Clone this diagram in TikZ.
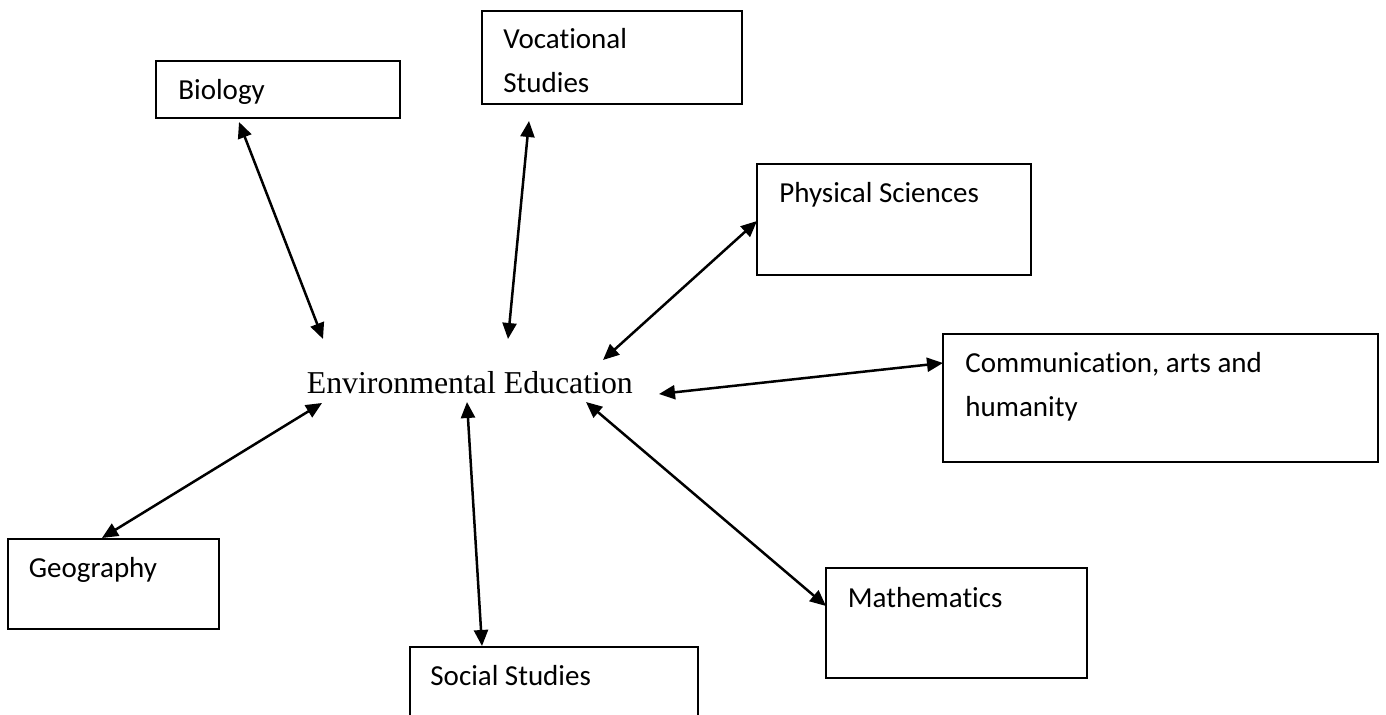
\documentclass[tikz,border=0pt]{standalone}
\usepackage{fontspec}
\setmainfont{Liberation Serif}
\newfontfamily\calibri[Ligatures=NoCommon,RawFeature={-liga;-dlig;-clig}]{Carlito}
\usetikzlibrary{arrows.meta}
\tikzset{
  subj/.style={draw=black, line width=1pt, fill=none, inner sep=0pt, rectangle},
  lbl/.style={anchor=base west, inner sep=0pt, align=left, font=\calibri\fontsize{14.5}{22}\selectfont},
  link/.style={line width=1.25pt, {Triangle[length=8pt,width=7pt]}-{Triangle[length=8pt,width=7pt]}}
}
\begin{document}
\begin{tikzpicture}[x=0.5pt, y=-0.5pt]
\useasboundingbox (0,0) rectangle (1386,715);
\fill[white] (0,0) rectangle (1386,715);
% boxes
\node[subj, minimum width=122pt, minimum height=28.5pt] (bio) at (278,89.5) {};
\node[subj, minimum width=130pt, minimum height=46.5pt] (voc) at (612,57.5) {};
\node[subj, minimum width=137pt, minimum height=55.5pt] (phy) at (894,219.5) {};
\node[subj, minimum width=217.5pt, minimum height=64pt] (com) at (1160.5,398) {};
\node[subj, minimum width=105.5pt, minimum height=45pt] (geo) at (113.5,584) {};
\node[subj, minimum width=130.5pt, minimum height=55pt] (mat) at (956.5,623) {};
\node[subj, minimum width=144pt, minimum height=60pt] (soc) at (554,707) {};
% labels
\node[lbl] (bioT) at (178,100) {Biology};
\node[lbl] (vocT) at (503,93) {Vocational\\Studies};
\node[lbl] (phyT) at (779,203) {Physical Sciences};
\node[lbl] (comT) at (965,417) {Communication, arts and\\humanity};
\node[lbl] (geoT) at (28.5,577) {Geography};
\node[lbl] (matT) at (847.5,607) {Mathematics};
\node[lbl] (socT) at (430,685) {Social Studies};
\node[anchor=base west, inner sep=0pt, font=\fontsize{15.9}{20}\selectfont] (ee) at (306.5,394) {Environmental Education};
% arrow end points
\coordinate (eBio) at (323,339);
\coordinate (bBio) at (239,122);
\coordinate (eVoc) at (508,339);
\coordinate (bVoc) at (529,121);
\coordinate (ePhy) at (603,360);
\coordinate (bPhy) at (757,221);
\coordinate (eCom) at (659,394);
\coordinate (bCom) at (943,363);
\coordinate (eGeo) at (322,403);
\coordinate (bGeo) at (102,538);
\coordinate (eSoc) at (467,402);
\coordinate (bSoc) at (482,646);
\coordinate (eMat) at (586,402);
\coordinate (bMat) at (826,606);
\draw[link] (bBio) -- (eBio);
\draw[link] (bVoc) -- (eVoc);
\draw[link] (bPhy) -- (ePhy);
\draw[link] (bCom) -- (eCom);
\draw[link] (bGeo) -- (eGeo);
\draw[link] (bSoc) -- (eSoc);
\draw[link] (bMat) -- (eMat);
\end{tikzpicture}
\end{document}
